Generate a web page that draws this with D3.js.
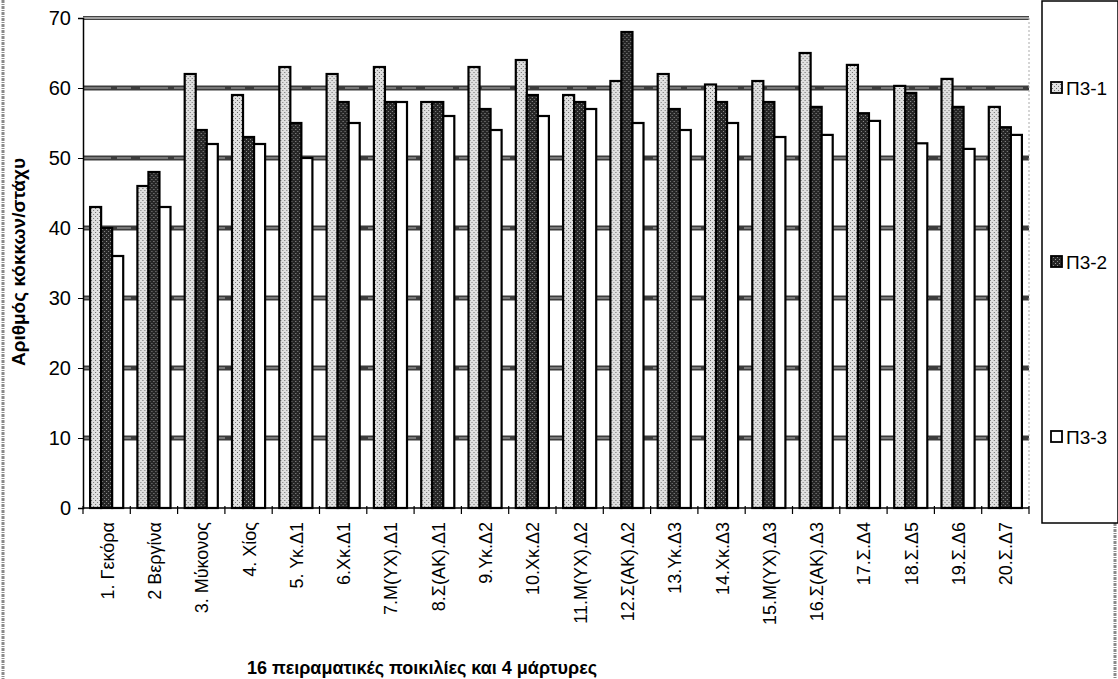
<!DOCTYPE html>
<html>
<head>
<meta charset="utf-8">
<script src="https://cdn.jsdelivr.net/npm/d3@7"></script>
<style>
  body { margin: 0; background: #fff; }
  svg { display: block; font-family: "Liberation Sans", Arial, sans-serif; }
</style>
</head>
<body>
<div id="content"></div>
<script>
// categories and series
const CATEGORIES = ['1. Γεκόρα', '2 Βεργίνα', '3. Μύκονος', '4. Χίος', '5. Υκ.Δ1', '6.Χκ.Δ1',
  '7.Μ(ΥΧ).Δ1', '8.Σ(ΑΚ).Δ1', '9.Υκ.Δ2', '10.Χκ.Δ2', '11.Μ(ΥΧ).Δ2', '12.Σ(ΑΚ).Δ2',
  '13.Υκ.Δ3', '14.Χκ.Δ3', '15.Μ(ΥΧ).Δ3', '16.Σ(ΑΚ).Δ3', '17.Σ.Δ4', '18.Σ.Δ5', '19.Σ.Δ6', '20.Σ.Δ7'];
const SERIES = ['Π3-1', 'Π3-2', 'Π3-3'];
const PZ1 = [43, 46, 62, 59, 63, 62, 63, 58, 63, 64, 59, 61, 62, 60.5, 61, 65, 63.3, 60.3, 61.3, 57.3];
const PZ2 = [40, 48, 54, 53, 55, 58, 58, 58, 57, 59, 58, 68, 57, 58, 58, 57.3, 56.4, 59.3, 57.3, 54.4];
const PZ3 = [36, 43, 52, 52, 50, 55, 58, 56, 54, 56, 57, 55, 54, 55, 53, 53.3, 55.3, 52.1, 51.3, 53.3];
const Y_TICKS = [0, 10, 20, 30, 40, 50, 60, 70];
const Y_TITLE = 'Αριθμός κόκκων/στάχυ';
const X_TITLE = '16 πειραματικές ποικιλίες και 4 μάρτυρες';

var width = 1118, height = 679;
var plotLeft = 83, plotRight = 1029, plotTop = 18, plotBottom = 508;

var svg = d3.select('#content').append('svg')
  .attr('width', width).attr('height', height);

// speckle patterns for the bar fills
var defs = svg.append('defs');
var p1 = defs.append('pattern').attr('id', 'pz1').attr('patternUnits', 'userSpaceOnUse')
  .attr('width', 4).attr('height', 4);
p1.append('rect').attr('width', 4).attr('height', 4).attr('fill', '#e0e0e0');
p1.append('rect').attr('x', 1).attr('y', 0).attr('width', 1).attr('height', 1).attr('fill', '#666');
p1.append('rect').attr('x', 3).attr('y', 2).attr('width', 1).attr('height', 1).attr('fill', '#777');
var p2 = defs.append('pattern').attr('id', 'pz2').attr('patternUnits', 'userSpaceOnUse')
  .attr('width', 4).attr('height', 4);
p2.append('rect').attr('width', 4).attr('height', 4).attr('fill', '#262626');
p2.append('rect').attr('x', 0).attr('y', 1).attr('width', 1).attr('height', 1).attr('fill', '#999');
p2.append('rect').attr('x', 2).attr('y', 3).attr('width', 1).attr('height', 1).attr('fill', '#888');
var FILLS = ['url(#pz1)', 'url(#pz2)', '#fff'];

var x0 = d3.scaleBand().domain(CATEGORIES).range([plotLeft, plotRight])
  .paddingInner(0.3).paddingOuter(0.15);
var x1 = d3.scaleBand().domain(SERIES).range([0, x0.bandwidth()]);
var y = d3.scaleLinear().domain([0, 70]).range([plotBottom, plotTop]);

// scan edges
svg.append('line').attr('x1', 3).attr('x2', 3).attr('y1', 0).attr('y2', height)
  .attr('stroke', '#8a8a8a').attr('stroke-width', 3).attr('stroke-dasharray', '3,1,1,1');
svg.append('line').attr('x1', 1115).attr('x2', 1115).attr('y1', 523).attr('y2', height)
  .attr('stroke', '#8a8a8a').attr('stroke-width', 3).attr('stroke-dasharray', '3,1,1,1');

// gridlines: thick dark band with lighter speckled streaks
var gridVals = Y_TICKS.filter(d => d > 0 && d < 70);
var grid = svg.append('g');
grid.selectAll('line.band')
  .data(gridVals).enter().append('line').attr('class', 'band')
  .attr('x1', plotLeft).attr('x2', plotRight)
  .attr('y1', d => y(d)).attr('y2', d => y(d))
  .attr('stroke', '#3c3c3c').attr('stroke-width', 5);
grid.selectAll('line.streak')
  .data(gridVals).enter().append('line').attr('class', 'streak')
  .attr('x1', plotLeft).attr('x2', plotRight)
  .attr('y1', d => y(d)).attr('y2', d => y(d))
  .attr('stroke', '#8c8c8c').attr('stroke-width', 1.5)
  .attr('stroke-dasharray', '28,6,14,9');
svg.append('line').attr('x1', plotLeft).attr('x2', plotRight).attr('y1', y(70)).attr('y2', y(70))
  .attr('stroke', '#444').attr('stroke-width', 4);
svg.append('line').attr('x1', plotLeft).attr('x2', plotRight).attr('y1', y(70)).attr('y2', y(70))
  .attr('stroke', '#fff').attr('stroke-width', 1.2);
svg.append('line').attr('x1', plotRight).attr('x2', plotRight).attr('y1', y(70)).attr('y2', plotBottom)
  .attr('stroke', '#aaa').attr('stroke-width', 1).attr('stroke-dasharray', '2,2');

// bars
var rows = CATEGORIES.map((c, i) => ({cat: c, vals: [PZ1[i], PZ2[i], PZ3[i]]}));
var groups = svg.append('g').selectAll('g')
  .data(rows).enter().append('g')
  .attr('transform', d => 'translate(' + x0(d.cat) + ',0)');
groups.selectAll('rect')
  .data(d => d.vals.map((v, k) => ({s: SERIES[k], v: v, k: k})))
  .enter().append('rect')
  .attr('x', d => x1(d.s))
  .attr('width', x1.bandwidth())
  .attr('y', d => y(d.v))
  .attr('height', d => y(0) - y(d.v))
  .attr('fill', d => FILLS[d.k])
  .attr('stroke', '#000').attr('stroke-width', 2.2);

// y axis
var yAxis = d3.axisLeft(y).tickValues(Y_TICKS).tickSize(5).tickPadding(7);
var gy = svg.append('g').attr('transform', 'translate(' + plotLeft + ',0)').call(yAxis);
gy.select('.domain').attr('stroke', '#000').attr('stroke-width', 1.5);
gy.selectAll('text').attr('font-size', 20).attr('fill', '#000')
  .attr('font-family', '"Liberation Sans", Arial, sans-serif');

// x axis baseline and category ticks
svg.append('line').attr('x1', plotLeft).attr('x2', plotRight).attr('y1', plotBottom).attr('y2', plotBottom)
  .attr('stroke', '#000').attr('stroke-width', 1.5);
var step = x0.step();
svg.append('g').selectAll('line')
  .data(d3.range(0, CATEGORIES.length + 1))
  .enter().append('line')
  .attr('x1', i => plotLeft + i * step).attr('x2', i => plotLeft + i * step)
  .attr('y1', plotBottom - 2).attr('y2', plotBottom + 6)
  .attr('stroke', '#000').attr('stroke-width', 1.2);

svg.append('g').selectAll('text')
  .data(CATEGORIES).enter().append('text')
  .attr('transform', d => 'translate(' + (x0(d) + x0.bandwidth() / 2 + 7) + ',' + (plotBottom + 14) + ') rotate(-90)')
  .attr('text-anchor', 'end')
  .attr('font-size', 18)
  .text(d => d);

// axis titles
svg.append('text')
  .attr('transform', 'translate(25,262) rotate(-90)')
  .attr('text-anchor', 'middle')
  .attr('font-size', 19).attr('font-weight', 'bold')
  .text(Y_TITLE);
svg.append('text')
  .attr('x', 422).attr('y', 674)
  .attr('text-anchor', 'middle')
  .attr('font-size', 18).attr('font-weight', 'bold')
  .text(X_TITLE);

// legend
var legend = svg.append('g');
legend.append('rect').attr('x', 1042).attr('y', 1).attr('width', 76).attr('height', 522)
  .attr('fill', '#fff').attr('stroke', '#000').attr('stroke-width', 1.5);
var LEGEND_Y = [88, 262, 437];
var items = legend.selectAll('g.item').data(SERIES).enter().append('g')
  .attr('transform', (d, i) => 'translate(1051,' + LEGEND_Y[i] + ')');
items.append('rect').attr('x', 0).attr('y', -6).attr('width', 11).attr('height', 11)
  .attr('fill', (d, i) => FILLS[i]).attr('stroke', '#000').attr('stroke-width', 1.8);
items.append('text').attr('x', 15).attr('y', 7)
  .attr('font-size', 19).text(d => d);
</script>
</body>
</html>
